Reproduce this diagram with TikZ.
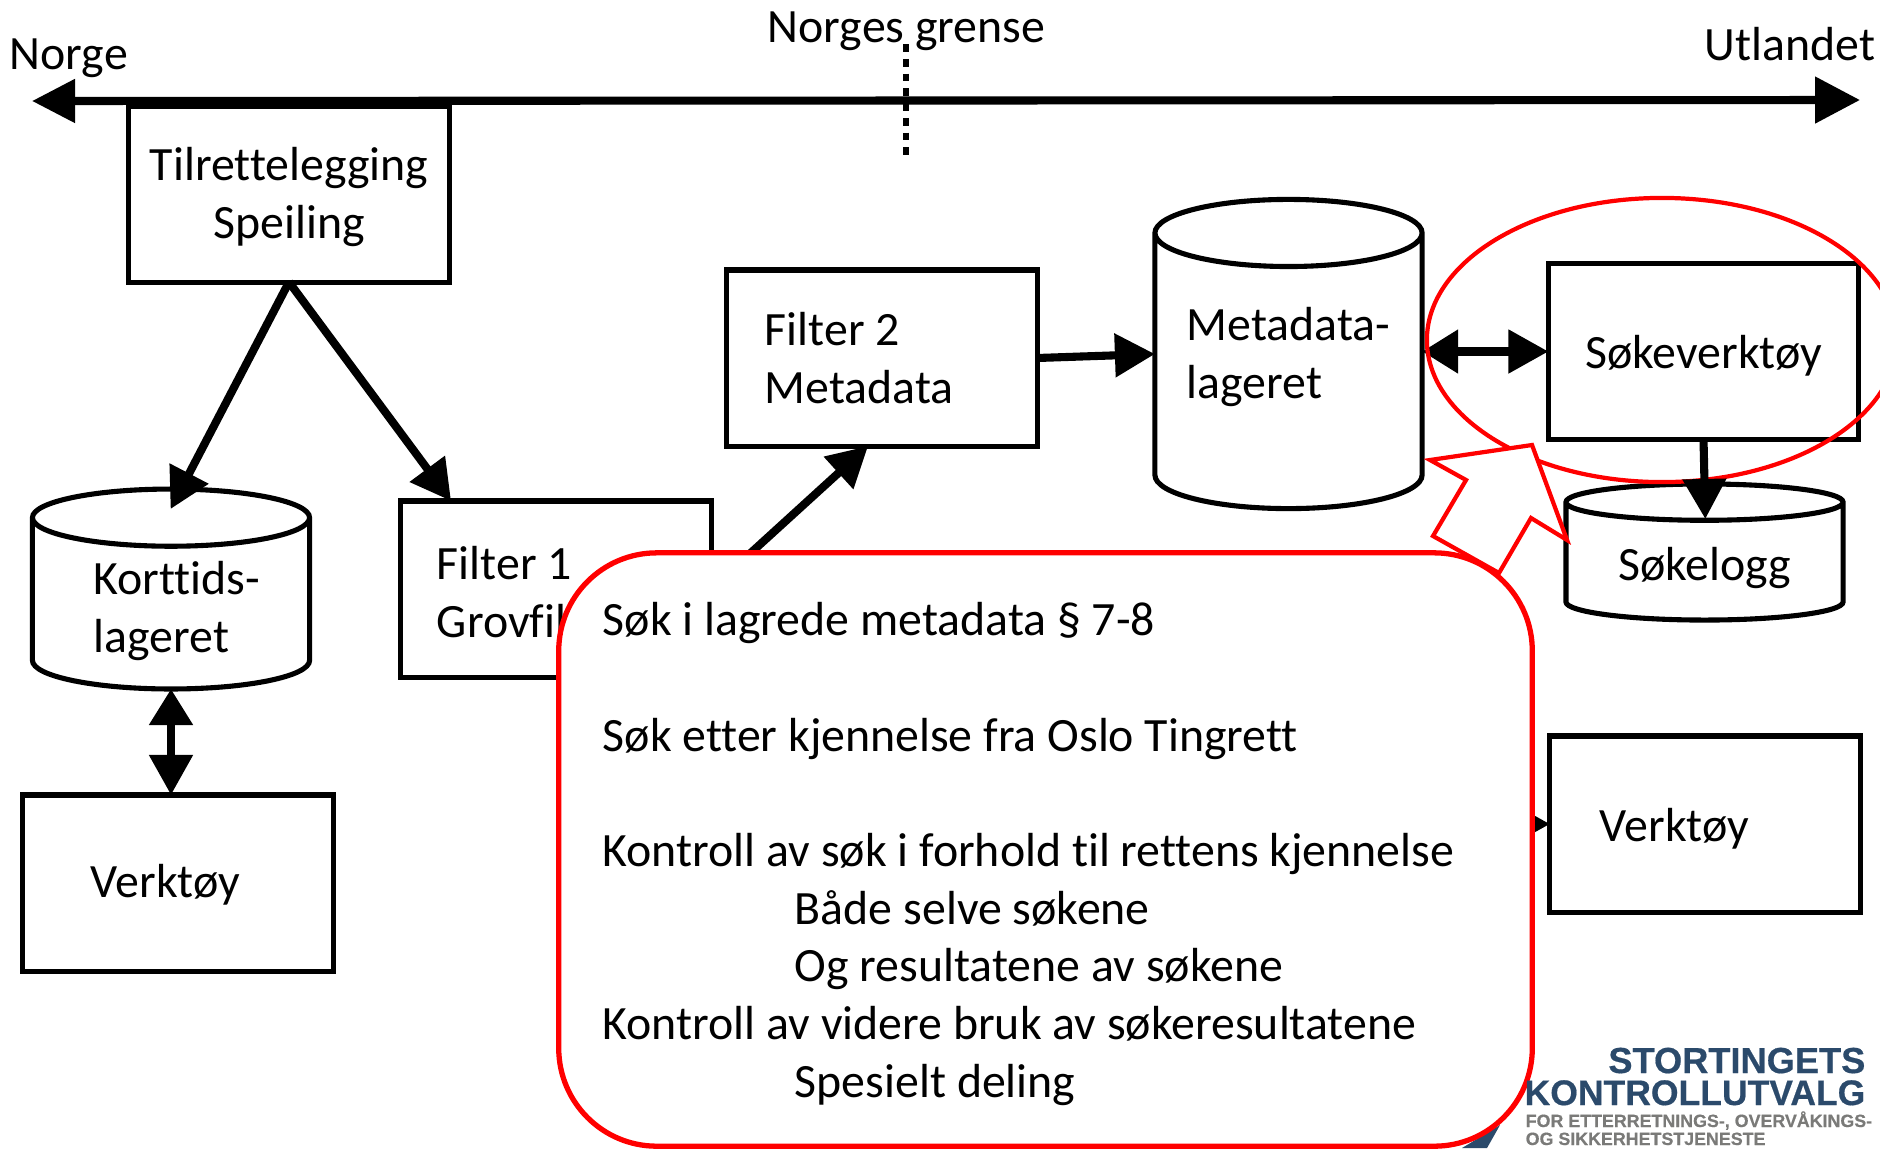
\documentclass[tikz,border=0pt]{standalone}
\usepackage{fontspec}
\setmainfont{Carlito}[Ligatures=NoCommon]
\newfontfamily\logofont[BoldFeatures={FakeBold=.5}]{Liberation Sans}
\usetikzlibrary{arrows.meta,shapes.geometric}
\definecolor{logoblue}{HTML}{2B4A6B}
\definecolor{logogray}{HTML}{7A7A78}
\newcommand{\lowtext}[1]{\rule{0pt}{#1}}
\newcommand{\hightext}[1]{\rule[-#1]{0pt}{#1}}
\tikzset{
  bodytext/.style={font=\fontsize{13.6}{16.4}\selectfont},
  boxnode/.style={draw,line width=1.45pt,minimum width=3.1cm,minimum height=1.76cm,outer sep=0pt,bodytext,align=flush center},
  leftbox/.style={boxnode,text width=2.38cm,inner xsep=.36cm,align=flush left},
  cyl/.style={draw,cylinder,shape border rotate=90,anchor=shape center,line width=1.45pt,outer sep=0pt,inner sep=0pt,fill=white,bodytext,align=left},
  label/.style={bodytext,anchor=base west,inner sep=0pt},
  arr/.style={line width=2.3pt,-{Triangle[length=4mm,width=4.2mm]}},
  dblarr/.style={line width=2.3pt,{Triangle[length=3.6mm,width=4.2mm]}-{Triangle[length=4mm,width=4.2mm]}},
  logotext/.style={inner sep=0pt,font=\logofont\bfseries\fontsize{#1}{10}\selectfont}
}
\begin{document}
\begin{tikzpicture}[x=0.01cm,y=-0.01cm]
\useasboundingbox (0,0) rectangle (1880,1148);
\clip (0,0) rectangle (1880,1148);
% border
\coordinate (west) at (32,101);
\coordinate (east) at (1860,100);
\coordinate (top) at (906,44);
\coordinate (bottom) at (906,156);
\draw[line width=2.3pt,{Triangle[length=4.3mm,width=4.2mm]}-{Triangle[length=4.5mm,width=4.5mm]}] (west) -- (east);
\draw[line width=1.5pt,dash pattern=on 2.2pt off 2pt] (top) -- (bottom);
\node[label] (norge) at (9,69) {Norge};
\node[label] (grense) at (767,42) {Norges grense};
\node[label] (utland) at (1704,60) {Utlandet};
% boxes
\node[boxnode,minimum width=3.2cm] (tilrette) at (289,194) {\lowtext{11pt}Tilrettelegging\\Speiling};
\node[leftbox,inner xsep=.38cm,text width=2.34cm] (filtB) at (882,358) {Filter 2\\Metadata};
\node[leftbox] (filtA) at (556,589) {\lowtext{11pt}Filter 1\\Grovfil};
\node[leftbox,inner xsep=.68cm,text width=1.74cm] (verktA) at (178,883) {\lowtext{10.5pt}Verktøy};
\node[leftbox,inner xsep=.50cm,text width=2.1cm] (verktB) at (1705,824) {\lowtext{12pt}Verktøy};
\node[boxnode] (soke) at (1703.5,351.5) {\lowtext{12pt}Søkeverktøy};
% storage
\node[cyl,minimum width=2.67cm,minimum height=3.09cm,aspect=.33] (meta) at (1288.5,354) {Metadata-\\lageret\hightext{11pt}};
\node[cyl,minimum width=2.77cm,minimum height=1.92cm,aspect=.32] (kort) at (171,589) {\hspace*{.12cm}\lowtext{13pt}Korttids-\\\hspace*{.12cm}lageret};
\node[cyl,minimum width=2.77cm,minimum height=1.36cm,aspect=.21] (logg) at (1704.5,552) {\lowtext{12.5pt}Søkelogg};
% connectors
\draw[arr,shorten >=-2.25mm] (tilrette.south) -- ([xshift=.1cm]kort.north);
\draw[arr] (tilrette.south) -- (filtA.140);
\draw[arr] (filtA.east) -- (filtB.-99);
\draw[arr] (filtB.east) -- (meta.west |- meta.shape center);
\draw[dblarr] (meta.east |- soke.west) -- (soke.west);
\draw[dblarr] (kort.south) -- (kort.south |- verktA.north);
\coordinate (hidden) at (1450,824);
\draw[arr] (hidden) -- (verktB.west);
% red marks
\node[draw=red,line width=1.2pt,ellipse,minimum width=4.7cm,minimum height=2.84cm,inner sep=0pt] (ring) at (1662,340) {};
\draw[arr,shorten >=-3.5mm] (soke.south) -- (logg.north);
\draw[red,line width=1.2pt,fill=white,line join=miter] (1430,460) -- (1532,445) -- (1567,540) -- (1531,518) -- (1499,573) -- (1433,536) -- (1466,480) -- cycle;
% logo
\fill[logoblue] (1462,1148) -- (1500,1125) -- (1487,1148) -- cycle;
\node[draw=red,fill=white,line width=1.5pt,rounded corners=.98cm,minimum width=9.73cm,minimum height=5.93cm,text width=8.85cm,inner xsep=.44cm,outer sep=0pt,align=flush left,bodytext] (callout) at (1045.5,849.5) {\lowtext{12pt}Søk i lagrede metadata § 7-8\\[16.4pt]Søk etter kjennelse fra Oslo Tingrett\\[16.4pt]Kontroll av søk i forhold til rettens kjennelse\\\hspace*{1.92cm}Både selve søkene\\\hspace*{1.92cm}Og resultatene av søkene\\Kontroll av videre bruk av søkeresultatene\\\hspace*{1.92cm}Spesielt deling};
\node[logotext=10.3,anchor=base east,text=logoblue] (logoA) at (1866,1073) {STORTINGETS};
\node[logotext=10.1,anchor=base east,text=logoblue] (logoB) at (1866,1105) {KONTROLLUTVALG};
\node[logotext=5.07,anchor=base west,text=logogray] (logoC) at (1525,1127) {FOR ETTERRETNINGS-, OVERVÅKINGS-};
\node[logotext=5.07,anchor=base west,text=logogray] (logoD) at (1525,1145) {OG SIKKERHETSTJENESTE};
\end{tikzpicture}
\end{document}
